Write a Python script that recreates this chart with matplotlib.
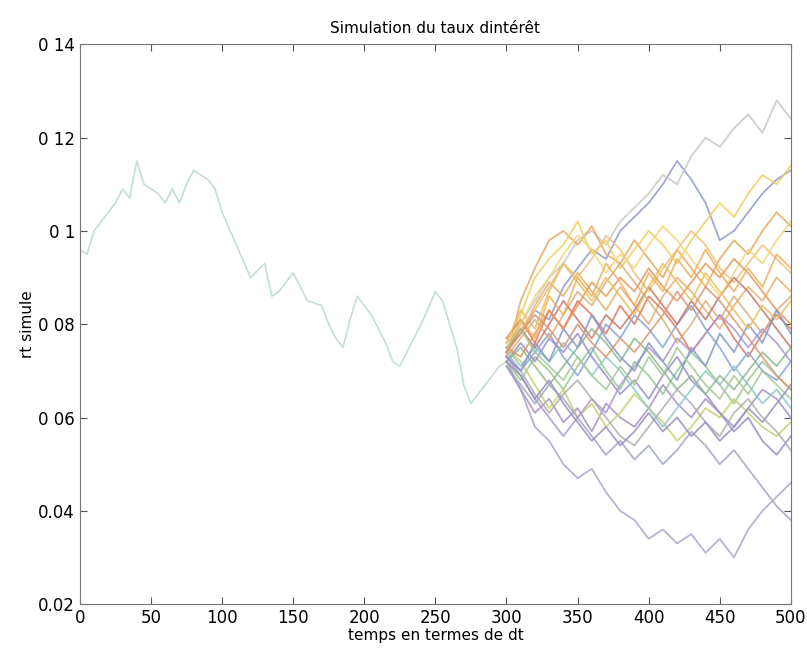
import matplotlib
matplotlib.use('Agg')
import matplotlib.pyplot as plt

# historical rate path (0 -> 300)
t_hist = [0, 5, 10, 20, 25, 30, 35, 40, 45, 50, 55, 60, 65, 70, 75, 80, 85, 90, 95, 100,
          110, 120, 130, 135, 140, 150, 155, 160, 170, 175, 180, 185, 190, 195, 200,
          205, 210, 215, 220, 225, 230, 240, 250, 255, 260, 265, 270, 275, 280, 285,
          290, 295, 300]
r_hist = [0.096, 0.095, 0.100, 0.104, 0.106, 0.109, 0.107, 0.115, 0.110, 0.109, 0.108,
          0.106, 0.109, 0.106, 0.110, 0.113, 0.112, 0.111, 0.109, 0.104,
          0.097, 0.090, 0.093, 0.086, 0.087, 0.091, 0.088, 0.085, 0.084, 0.080, 0.077,
          0.075, 0.081, 0.086, 0.084, 0.082, 0.079, 0.076, 0.072, 0.071, 0.074, 0.080,
          0.087, 0.085, 0.080, 0.075, 0.067, 0.063, 0.065, 0.067, 0.069, 0.071, 0.072]

# simulated paths (300 -> 500, every 10)
t_sim = list(range(300, 501, 10))
sims = [
    [0.072,0.066,0.058,0.055,0.050,0.047,0.049,0.044,0.040,0.038,0.034,0.036,0.033,0.035,0.031,0.034,0.030,0.036,0.040,0.043,0.046],
    [0.075,0.078,0.083,0.081,0.088,0.092,0.096,0.094,0.100,0.103,0.106,0.110,0.115,0.111,0.106,0.098,0.100,0.104,0.108,0.111,0.113],
    [0.074,0.080,0.085,0.090,0.093,0.098,0.100,0.097,0.102,0.105,0.108,0.112,0.110,0.116,0.120,0.118,0.122,0.125,0.121,0.128,0.124],
    [0.073,0.085,0.092,0.098,0.100,0.097,0.101,0.095,0.093,0.098,0.094,0.090,0.096,0.092,0.088,0.094,0.098,0.095,0.100,0.104,0.101],
    [0.076,0.082,0.090,0.094,0.097,0.102,0.095,0.098,0.092,0.096,0.100,0.097,0.093,0.098,0.102,0.106,0.103,0.108,0.112,0.110,0.114],
    [0.074,0.078,0.084,0.089,0.086,0.091,0.087,0.083,0.088,0.084,0.080,0.086,0.090,0.087,0.083,0.079,0.084,0.088,0.085,0.090,0.087],
    [0.077,0.081,0.076,0.083,0.079,0.085,0.082,0.078,0.084,0.080,0.086,0.083,0.079,0.074,0.078,0.082,0.077,0.073,0.078,0.082,0.079],
    [0.072,0.068,0.073,0.070,0.066,0.071,0.075,0.070,0.066,0.072,0.069,0.065,0.070,0.074,0.071,0.067,0.063,0.068,0.072,0.069,0.066],
    [0.071,0.066,0.061,0.064,0.059,0.062,0.057,0.063,0.060,0.058,0.062,0.067,0.063,0.060,0.064,0.061,0.058,0.062,0.066,0.064,0.060],
    [0.073,0.070,0.074,0.078,0.073,0.069,0.074,0.080,0.077,0.082,0.079,0.075,0.080,0.084,0.079,0.075,0.070,0.074,0.070,0.068,0.072],
    [0.075,0.072,0.067,0.062,0.066,0.060,0.063,0.058,0.061,0.065,0.062,0.059,0.055,0.058,0.062,0.060,0.064,0.061,0.058,0.056,0.059],
    [0.076,0.079,0.083,0.088,0.093,0.090,0.094,0.099,0.096,0.091,0.087,0.092,0.096,0.100,0.097,0.092,0.089,0.093,0.097,0.094,0.091],
    [0.072,0.076,0.072,0.077,0.074,0.078,0.073,0.069,0.065,0.068,0.064,0.069,0.073,0.068,0.065,0.061,0.057,0.060,0.055,0.052,0.056],
    [0.074,0.070,0.065,0.061,0.065,0.068,0.064,0.060,0.056,0.054,0.058,0.062,0.066,0.063,0.059,0.056,0.061,0.064,0.060,0.057,0.053],
    [0.073,0.077,0.081,0.077,0.082,0.087,0.084,0.089,0.093,0.089,0.085,0.081,0.076,0.080,0.085,0.081,0.086,0.082,0.078,0.083,0.086],
    [0.075,0.071,0.075,0.072,0.076,0.073,0.069,0.073,0.070,0.066,0.062,0.058,0.062,0.066,0.070,0.067,0.071,0.067,0.063,0.066,0.062],
    [0.074,0.079,0.075,0.080,0.085,0.081,0.077,0.082,0.079,0.083,0.088,0.084,0.080,0.085,0.081,0.086,0.090,0.087,0.083,0.079,0.075],
    [0.076,0.080,0.086,0.090,0.095,0.099,0.096,0.091,0.095,0.092,0.097,0.101,0.098,0.094,0.090,0.086,0.091,0.096,0.093,0.098,0.102],
    [0.073,0.069,0.064,0.060,0.056,0.060,0.064,0.061,0.067,0.071,0.075,0.072,0.077,0.074,0.078,0.082,0.079,0.075,0.079,0.076,0.072],
    [0.072,0.075,0.071,0.067,0.071,0.075,0.079,0.076,0.072,0.077,0.074,0.070,0.066,0.069,0.065,0.069,0.066,0.070,0.074,0.071,0.075],
    [0.071,0.067,0.063,0.067,0.064,0.060,0.056,0.052,0.055,0.051,0.054,0.050,0.053,0.057,0.054,0.050,0.053,0.049,0.045,0.041,0.038],
    [0.075,0.073,0.078,0.083,0.079,0.084,0.089,0.086,0.090,0.087,0.092,0.088,0.085,0.089,0.093,0.090,0.094,0.091,0.087,0.083,0.080],
    [0.074,0.081,0.077,0.086,0.082,0.090,0.086,0.093,0.089,0.084,0.091,0.087,0.094,0.090,0.096,0.091,0.087,0.092,0.088,0.095,0.092],
    [0.073,0.070,0.076,0.072,0.079,0.075,0.082,0.077,0.073,0.070,0.076,0.072,0.068,0.075,0.071,0.078,0.074,0.080,0.076,0.083,0.078],
    [0.075,0.079,0.074,0.071,0.068,0.073,0.069,0.066,0.071,0.067,0.073,0.069,0.075,0.071,0.067,0.064,0.069,0.065,0.070,0.067,0.064],
    [0.076,0.083,0.079,0.087,0.093,0.089,0.085,0.090,0.086,0.082,0.088,0.093,0.089,0.085,0.091,0.087,0.083,0.079,0.084,0.081,0.085],
    [0.072,0.069,0.064,0.068,0.063,0.059,0.055,0.058,0.054,0.057,0.061,0.057,0.060,0.056,0.059,0.055,0.058,0.062,0.059,0.063,0.067],
    [0.074,0.078,0.082,0.079,0.075,0.080,0.076,0.073,0.077,0.074,0.078,0.082,0.087,0.083,0.088,0.085,0.081,0.077,0.073,0.069,0.066],
]
sim_colors = ['#a8a8c8', '#8f9ad0', '#c8c8c8', '#e8a860', '#f0d060', '#e8b070',
              '#e07860', '#98c890', '#a890c8', '#8aa4d8', '#c8d070', '#f0c080',
              '#9890c8', '#b0b0b0', '#d8b080', '#90c8c8', '#c87868', '#f0d878',
              '#b098d0', '#90b890', '#a0a8c0', '#e89858', '#f0b060', '#8898c8',
              '#a8c898', '#e8c060', '#9c90c0', '#d89878']

yticks = [0.02, 0.04, 0.06, 0.08, 0.10, 0.12, 0.14]
ytick_labels = ['0.02', '0.04', '0 06', '0 08', '0 1', '0 12', '0 14']
xticks = [0, 50, 100, 150, 200, 250, 300, 350, 400, 450, 500]

fig = plt.figure(figsize=(8.07, 6.51), dpi=100)
ax = fig.add_axes([0.099, 0.072, 0.881, 0.860])

ax.plot(t_hist, r_hist, color='#c4ddd9', linewidth=1.2)
for i, s in enumerate(sims):
    ax.plot(t_sim, s, color=sim_colors[i % len(sim_colors)], linewidth=1.3, alpha=0.85)

ax.set_xlim(0, 500)
ax.set_ylim(0.02, 0.14)
ax.set_xticks(xticks)
ax.set_yticks(yticks)
ax.set_yticklabels(ytick_labels)
ax.tick_params(direction='in', top=True, right=True, labelsize=12, length=5, color='#555555')
for sp in ax.spines.values():
    sp.set_color('#777777')
    sp.set_linewidth(0.8)

ax.set_title('Simulation du taux dintérêt', fontsize=11, pad=8)
ax.set_xlabel('temps en termes de dt', fontsize=11, labelpad=1)
ax.set_ylabel('rt simule', fontsize=11, labelpad=2)

fig.savefig('out.png', dpi=100)
